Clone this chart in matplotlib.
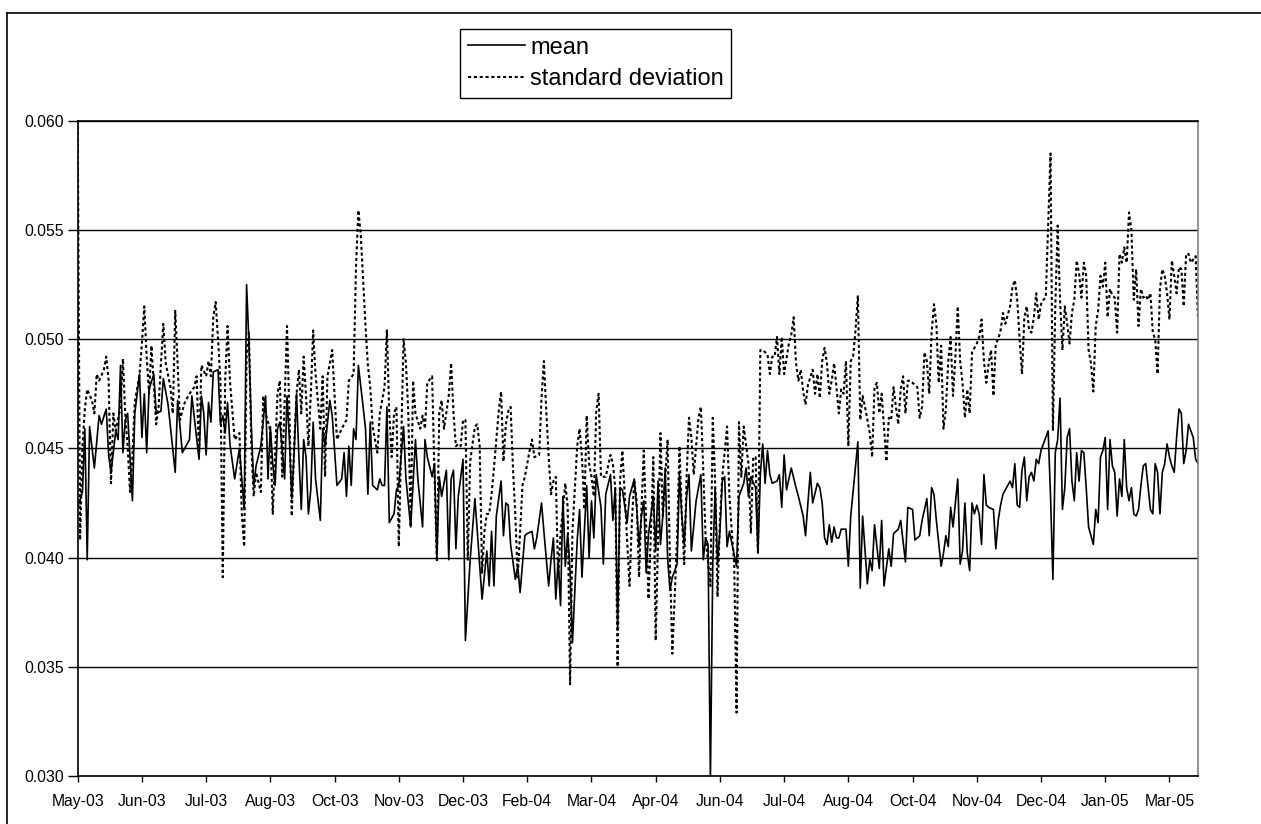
import numpy as np
import matplotlib
matplotlib.use('Agg')
import matplotlib.pyplot as plt
from matplotlib.lines import Line2D

plt.rcParams['font.family'] = ['Liberation Sans', 'DejaVu Sans']

# trading-day index (category axis) and values
mean_day = [0, 2, 3, 4, 5, 7, 9, 10, 12, 13, 14, 16, 17, 18, 19, 20, 21, 22, 23, 24,
            26, 27, 28, 29, 30, 32, 33, 35, 36, 38, 41, 42, 43, 44, 47, 48, 51, 52, 53, 54,
            55, 56, 57, 59, 60, 61, 62, 63, 64, 66, 67, 68, 70, 71, 72, 73, 74, 75, 77, 79,
            80, 81, 82, 83, 84, 85, 87, 88, 89, 90, 91, 92, 93, 94, 95, 96, 97, 98, 99, 100,
            102, 103, 104, 106, 107, 109, 111, 112, 113, 114, 115, 116, 117, 118, 120, 121, 122, 123, 124, 126,
            127, 128, 129, 130, 131, 133, 134, 135, 137, 138, 140, 142, 143, 145, 146, 147, 149, 150, 151, 152,
            153, 155, 156, 157, 158, 159, 160, 162, 163, 165, 167, 168, 170, 172, 173, 174, 175, 176, 178, 179,
            180, 181, 182, 184, 185, 186, 188, 189, 191, 192, 193, 195, 196, 198, 199, 200, 201, 202, 203, 204,
            205, 206, 207, 208, 209, 210, 211, 212, 213, 214, 215, 216, 217, 218, 220, 221, 222, 224, 225, 226,
            227, 228, 229, 231, 232, 234, 235, 236, 237, 238, 239, 240, 242, 243, 244, 245, 246, 247, 248, 249,
            250, 252, 253, 254, 255, 256, 257, 258, 260, 262, 263, 264, 265, 266, 267, 268, 269, 270, 271, 272,
            273, 274, 277, 278, 280, 281, 282, 283, 285, 286, 287, 288, 289, 290, 291, 292, 294, 295, 296, 297,
            298, 300, 302, 303, 305, 306, 307, 308, 309, 311, 312, 313, 314, 315, 316, 317, 318, 319, 320, 321,
            323, 324, 325, 328, 329, 330, 332, 333, 334, 335, 337, 338, 339, 341, 342, 343, 345, 346, 348, 349,
            351, 352, 354, 355, 357, 358, 359, 360, 361, 363, 364, 365, 366, 367, 368, 370, 371, 372, 373, 374,
            375, 376, 377, 378, 379, 380, 381, 382, 383, 385, 386, 387, 388, 389, 390, 392, 393, 394, 395, 396,
            397, 398, 399, 400, 401, 402, 403, 404, 405, 406, 407, 408, 409, 410, 411, 412, 413, 414, 415, 416,
            417, 418, 419, 420, 421, 422, 423, 424, 425, 426, 427, 428, 429, 430, 431, 432, 433, 434, 435, 436,
            437, 438, 439, 440, 441, 442, 443, 444, 445, 446, 447, 448, 449, 451, 452, 453, 454, 455, 456, 457,
            458, 459, 460, 461, 462, 463, 464, 465, 466, 467, 468, 469, 470, 471]
mean_val = [.0423, .0430, .0459, .0399, .0460, .0441, .0465, .0461, .0468, .0447, .0439, .0458, .0454, .0488, .0448, .0463, .0466, .0446, .0426, .0466,
            .0484, .0455, .0475, .0448, .0477, .0484, .0466, .0467, .0482, .0470, .0439, .0472, .0460, .0448, .0454, .0474, .0445, .0474, .0466, .0447,
            .0471, .0462, .0485, .0486, .0461, .0465, .0457, .0471, .0452, .0436, .0443, .0450, .0422, .0525, .0498, .0460, .0433, .0442, .0451, .0474,
            .0436, .0460, .0443, .0433, .0459, .0462, .0436, .0474, .0454, .0427, .0448, .0475, .0446, .0422, .0454, .0446, .0420, .0431, .0462, .0436,
            .0417, .0459, .0451, .0472, .0465, .0433, .0436, .0448, .0428, .0451, .0433, .0459, .0454, .0488, .0469, .0459, .0429, .0462, .0433, .0431,
            .0436, .0433, .0433, .0469, .0416, .0420, .0431, .0433, .0460, .0436, .0414, .0454, .0436, .0414, .0454, .0446, .0437, .0443, .0399, .0437,
            .0428, .0440, .0399, .0436, .0440, .0404, .0428, .0445, .0362, .0399, .0427, .0412, .0381, .0403, .0387, .0412, .0387, .0419, .0435, .0410,
            .0425, .0424, .0406, .0390, .0396, .0384, .0410, .0411, .0412, .0404, .0409, .0425, .0412, .0387, .0399, .0409, .0381, .0399, .0378, .0428,
            .0396, .0411, .0394, .0361, .0384, .0408, .0422, .0391, .0412, .0433, .0400, .0426, .0409, .0438, .0423, .0397, .0429, .0438, .0417, .0432,
            .0368, .0432, .0431, .0416, .0428, .0436, .0423, .0405, .0419, .0426, .0393, .0411, .0428, .0403, .0435, .0406, .0419, .0441, .0400, .0385,
            .0391, .0397, .0438, .0419, .0406, .0428, .0438, .0403, .0426, .0438, .0399, .0409, .0406, .0298, .0397, .0432, .0397, .0412, .0435, .0437,
            .0405, .0412, .0396, .0428, .0434, .0441, .0428, .0437, .0432, .0402, .0438, .0452, .0434, .0449, .0438, .0434, .0435, .0438, .0423, .0447,
            .0431, .0441, .0432, .0428, .0419, .0410, .0425, .0439, .0425, .0434, .0432, .0425, .0409, .0406, .0415, .0407, .0414, .0409, .0409, .0413,
            .0413, .0396, .0419, .0453, .0386, .0419, .0388, .0399, .0394, .0415, .0395, .0417, .0387, .0404, .0396, .0411, .0413, .0417, .0398, .0423,
            .0422, .0408, .0410, .0417, .0427, .0410, .0432, .0429, .0417, .0396, .0402, .0410, .0405, .0423, .0414, .0436, .0397, .0403, .0425, .0402,
            .0394, .0425, .0420, .0424, .0420, .0406, .0438, .0424, .0423, .0422, .0404, .0417, .0424, .0429, .0431, .0435, .0432, .0443, .0424, .0423,
            .0440, .0446, .0426, .0437, .0439, .0435, .0445, .0443, .0449, .0452, .0455, .0458, .0428, .0390, .0448, .0454, .0473, .0422, .0432, .0455,
            .0459, .0435, .0426, .0448, .0435, .0449, .0448, .0432, .0414, .0410, .0406, .0422, .0416, .0446, .0449, .0455, .0422, .0454, .0442, .0439,
            .0419, .0436, .0428, .0454, .0432, .0426, .0432, .0420, .0419, .0422, .0433, .0442, .0443, .0422, .0420, .0443, .0439, .0420, .0439, .0443,
            .0452, .0446, .0442, .0439, .0455, .0468, .0466, .0443, .0449, .0461, .0458, .0455, .0445, .0443]

std_day = [0, 1, 2, 3, 4, 6, 7, 8, 9, 11, 12, 13, 14, 15, 16, 18, 19, 20, 21, 22,
           23, 24, 26, 27, 28, 29, 30, 31, 33, 34, 35, 36, 37, 39, 40, 41, 42, 43, 45, 47,
           49, 50, 51, 52, 54, 55, 56, 57, 58, 59, 60, 61, 62, 63, 64, 66, 68, 69, 70, 71,
           72, 73, 74, 75, 77, 78, 79, 81, 82, 84, 85, 86, 88, 89, 90, 91, 92, 93, 94, 95,
           96, 97, 98, 99, 100, 102, 103, 104, 105, 107, 108, 109, 111, 113, 114, 116, 117, 118, 119, 121,
           122, 123, 124, 126, 127, 129, 130, 131, 132, 133, 134, 135, 137, 138, 139, 140, 141, 142, 144, 145,
           146, 147, 149, 150, 151, 152, 153, 154, 156, 157, 158, 159, 160, 161, 162, 163, 164, 165, 166, 167,
           168, 169, 170, 171, 172, 173, 174, 175, 177, 178, 179, 180, 181, 182, 183, 184, 185, 186, 187, 188,
           190, 191, 192, 194, 195, 196, 197, 198, 199, 200, 201, 202, 203, 204, 205, 206, 207, 208, 210, 211,
           212, 213, 214, 215, 216, 217, 218, 219, 220, 222, 224, 225, 226, 227, 228, 229, 231, 232, 233, 234,
           235, 236, 237, 238, 240, 241, 242, 243, 244, 245, 246, 248, 249, 250, 251, 252, 253, 254, 255, 256,
           257, 258, 259, 260, 261, 262, 263, 264, 266, 267, 268, 269, 270, 271, 273, 274, 275, 276, 277, 278,
           279, 280, 282, 283, 284, 285, 286, 287, 288, 290, 291, 292, 293, 294, 295, 296, 297, 299, 300, 301,
           302, 303, 304, 305, 306, 307, 309, 310, 311, 312, 313, 314, 315, 316, 317, 318, 319, 320, 321, 322,
           323, 324, 325, 326, 327, 328, 329, 330, 331, 332, 333, 334, 335, 336, 337, 338, 340, 341, 342, 343,
           344, 345, 346, 347, 348, 349, 350, 351, 353, 354, 355, 356, 357, 358, 359, 360, 361, 362, 363, 364,
           365, 366, 367, 368, 369, 370, 371, 372, 373, 374, 375, 376, 378, 379, 380, 381, 382, 383, 384, 385,
           386, 387, 388, 389, 390, 392, 393, 394, 395, 396, 397, 398, 399, 400, 401, 402, 403, 404, 405, 406,
           407, 409, 410, 411, 412, 413, 414, 415, 416, 417, 418, 419, 420, 421, 422, 423, 424, 425, 426, 427,
           428, 429, 430, 431, 432, 433, 434, 435, 436, 437, 438, 439, 440, 441, 442, 443, 444, 445, 446, 447,
           448, 449, 450, 451, 452, 453, 454, 455, 456, 457, 458, 459, 460, 461, 462, 463, 464, 465, 466, 467,
           468, 470, 471]
std_val = [.0600, .0408, .0451, .0468, .0477, .0472, .0466, .0484, .0481, .0486, .0492, .0481, .0434, .0466, .0458, .0469, .0491, .0465, .0451, .0430,
           .0446, .0471, .0484, .0498, .0515, .0492, .0475, .0497, .0461, .0469, .0489, .0507, .0489, .0478, .0466, .0513, .0489, .0463, .0471, .0475,
           .0478, .0483, .0446, .0488, .0483, .0490, .0483, .0510, .0517, .0500, .0481, .0391, .0481, .0506, .0481, .0454, .0457, .0420, .0405, .0492,
           .0503, .0451, .0428, .0439, .0430, .0474, .0466, .0458, .0420, .0475, .0481, .0437, .0506, .0466, .0419, .0451, .0475, .0486, .0466, .0492,
           .0474, .0451, .0475, .0504, .0484, .0459, .0483, .0437, .0483, .0495, .0474, .0454, .0459, .0463, .0481, .0484, .0533, .0559, .0548, .0506,
           .0488, .0478, .0460, .0448, .0466, .0478, .0504, .0466, .0446, .0466, .0469, .0405, .0500, .0489, .0466, .0414, .0481, .0466, .0459, .0465,
           .0459, .0480, .0483, .0439, .0398, .0466, .0472, .0459, .0474, .0489, .0466, .0451, .0452, .0451, .0463, .0463, .0399, .0444, .0452, .0460,
           .0461, .0451, .0393, .0412, .0420, .0420, .0429, .0441, .0467, .0476, .0444, .0461, .0467, .0469, .0441, .0419, .0391, .0412, .0433, .0437,
           .0449, .0454, .0446, .0447, .0473, .0490, .0467, .0446, .0429, .0435, .0437, .0391, .0411, .0422, .0434, .0423, .0342, .0412, .0451, .0459,
           .0446, .0422, .0465, .0443, .0437, .0428, .0467, .0475, .0437, .0437, .0447, .0443, .0432, .0350, .0435, .0449, .0408, .0387, .0417, .0435,
           .0426, .0391, .0422, .0449, .0381, .0412, .0446, .0362, .0409, .0457, .0419, .0454, .0397, .0356, .0382, .0409, .0451, .0419, .0397, .0437,
           .0464, .0455, .0438, .0451, .0464, .0469, .0440, .0409, .0387, .0464, .0434, .0382, .0417, .0437, .0460, .0428, .0412, .0397, .0329, .0462,
           .0437, .0460, .0443, .0411, .0446, .0446, .0402, .0495, .0495, .0493, .0484, .0492, .0492, .0501, .0484, .0501, .0484, .0498, .0502, .0510,
           .0489, .0481, .0486, .0476, .0470, .0479, .0486, .0475, .0484, .0473, .0490, .0496, .0489, .0475, .0481, .0489, .0478, .0466, .0477, .0475,
           .0490, .0451, .0490, .0492, .0504, .0520, .0463, .0474, .0469, .0463, .0457, .0446, .0478, .0480, .0466, .0475, .0444, .0464, .0463, .0478,
           .0469, .0461, .0477, .0483, .0466, .0481, .0481, .0480, .0478, .0464, .0469, .0494, .0490, .0475, .0503, .0516, .0507, .0480, .0497, .0459,
           .0468, .0490, .0501, .0474, .0492, .0515, .0490, .0480, .0464, .0477, .0466, .0494, .0498, .0501, .0509, .0490, .0480, .0489, .0495, .0474,
           .0498, .0500, .0504, .0512, .0507, .0515, .0524, .0527, .0518, .0500, .0484, .0510, .0515, .0504, .0503, .0510, .0521, .0509, .0516, .0518,
           .0519, .0585, .0458, .0515, .0552, .0518, .0495, .0515, .0507, .0498, .0512, .0518, .0536, .0530, .0519, .0535, .0529, .0495, .0489, .0476,
           .0506, .0513, .0529, .0524, .0535, .0510, .0523, .0520, .0519, .0503, .0539, .0535, .0542, .0535, .0558, .0550, .0518, .0532, .0506, .0523,
           .0519, .0520, .0518, .0521, .0503, .0500, .0484, .0523, .0532, .0529, .0521, .0509, .0536, .0529, .0521, .0533, .0532, .0515, .0539, .0539,
           .0535, .0538, .0510]

tick_labels = ['May-03', 'Jun-03', 'Jul-03', 'Aug-03', 'Oct-03', 'Nov-03', 'Dec-03',
               'Feb-04', 'Mar-04', 'Apr-04', 'Jun-04', 'Jul-04', 'Aug-04', 'Oct-04',
               'Nov-04', 'Dec-04', 'Jan-05', 'Mar-05']
tick_every = 27  # trading days between labelled categories

fig = plt.figure(figsize=(12.61, 8.24), dpi=100)
ax = fig.add_axes([77.7 / 1261, 1 - 776 / 824, (1198 - 77.7) / 1261, (776 - 120.7) / 824])

ax.plot(mean_day, mean_val, color='black', lw=1.2, label='mean')
ax.plot(std_day, std_val, color='black', lw=1.5, linestyle=(0, (1.5, 1.3)),
        label='standard deviation')

ax.set_xlim(0, 471)
ax.set_ylim(0.030, 0.060)
ax.set_yticks(np.arange(0.030, 0.0601, 0.005))
ax.set_yticklabels(['%.3f' % v for v in np.arange(0.030, 0.0601, 0.005)])
ax.set_xticks(np.arange(len(tick_labels)) * tick_every)
ax.set_xticklabels(tick_labels)
ax.grid(axis='y', color='black', lw=1.0)
ax.set_axisbelow(True)

ax.tick_params(axis='y', direction='out', length=7, width=1, pad=3, labelsize=11.3)
ax.tick_params(axis='x', direction='out', length=4, width=1, pad=9, labelsize=11.3)
for side in ['left', 'bottom', 'top']:
    ax.spines[side].set_color('black')
    ax.spines[side].set_linewidth(1.2)
ax.spines['right'].set_color('#808080')
ax.spines['right'].set_linewidth(1.2)

leg = fig.legend(loc='upper left', bbox_to_anchor=(460 / 1261, 1 - 29 / 824),
                 fontsize=17, frameon=True, fancybox=False, edgecolor='black',
                 framealpha=1, handlelength=2.45, handletextpad=0.2,
                 borderpad=0.32, labelspacing=0.42, borderaxespad=0)
leg.get_frame().set_linewidth(1.0)

# outer chart frame (top and left edges visible in the picture)
fig.add_artist(Line2D([7 / 1261, 7 / 1261], [0, 1 - 13 / 824], color='black', lw=1.2,
                      transform=fig.transFigure))
fig.add_artist(Line2D([7 / 1261, 1], [1 - 13 / 824, 1 - 13 / 824], color='black', lw=1.2,
                      transform=fig.transFigure))

fig.savefig('out.png', dpi=100)
